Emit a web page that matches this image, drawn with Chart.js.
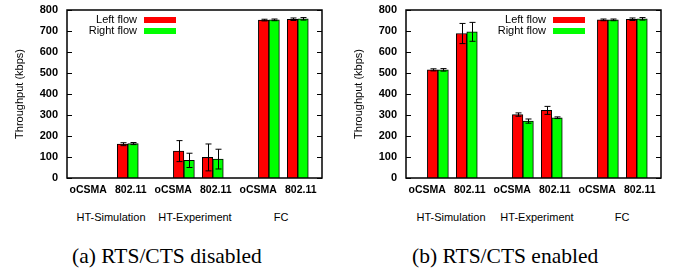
<!DOCTYPE html>
<html>
<head>
<meta charset="utf-8">
<script src="https://cdn.jsdelivr.net/npm/chart.js@4.4.0/dist/chart.umd.min.js"></script>
<style>
body { margin: 0; background: #fff; }
#fig { position: relative; width: 678px; height: 270px; overflow: hidden; }
.panel { position: absolute; top: 0; width: 339px; height: 200px; }
.grp { position: absolute; top: 212px; font: 11px "Liberation Sans", Arial, sans-serif; line-height: 11px; transform: translateX(-50%); white-space: nowrap; color: #000; }
.cap { position: absolute; top: 246px; font: 21.5px "Liberation Serif", "Times New Roman", serif; line-height: 21.5px; white-space: nowrap; color: #000; }
</style>
</head>
<body>
<div id="fig">
  <div class="panel" style="left:0"><canvas id="chartA" width="339" height="200"></canvas></div>
  <div class="panel" style="left:339px"><canvas id="chartB" width="339" height="200"></canvas></div>
</div>
<script>
const protocols = ['oCSMA', '802.11'];
const scenarios = ['HT-Simulation', 'HT-Experiment', 'FC'];
const flowNames = ['Left flow', 'Right flow'];
const captions = ['(a) RTS/CTS disabled', '(b) RTS/CTS enabled'];

// order: HT-Sim oCSMA, HT-Sim 802.11, HT-Exp oCSMA, HT-Exp 802.11, FC oCSMA, FC 802.11
// (a) RTS/CTS disabled
const offLeft = [null, 161, 128, 98, 752, 756];
const offLeftErr = [null, 7, 50, 64, 4, 6];
const offRight = [null, 164, 84, 90, 753, 758];
const offRightErr = [null, 5, 34, 47, 4, 6];
// (b) RTS/CTS enabled
const onLeft = [515, 688, 302, 322, 753, 756];
const onLeftErr = [5, 48, 8, 19, 4, 6];
const onRight = [515, 696, 271, 287, 753, 758];
const onRightErr = [6, 45, 10, 4, 4, 6];

// where bars and tick labels sit inside each scenario group
const barSlot = [0.375, 0.715];
const tickSlot = [0.25, 0.75];

Chart.defaults.font.family = '"Liberation Sans", Arial, sans-serif';
Chart.defaults.color = '#000';

function toPoints(values) {
    return values.map((v, i) => ({ x: Math.floor(i / 2) + barSlot[i % 2], y: v }));
}

// error bars drawn from the y scale
const errorBars = {
    id: 'errorBars',
    afterDatasetsDraw(chart) {
        const ctx = chart.ctx;
        const y = chart.scales.y;
        ctx.save();
        ctx.strokeStyle = '#000';
        ctx.lineWidth = 1;
        chart.data.datasets.forEach((ds, i) => {
            const meta = chart.getDatasetMeta(i);
            meta.data.forEach((bar, j) => {
                const v = ds.data[j].y;
                const e = ds.errors[j];
                if (v == null || e == null) return;
                const top = y.getPixelForValue(v + e);
                const bot = y.getPixelForValue(Math.max(v - e, 0));
                const x = Math.round(bar.x) + 0.5;
                ctx.beginPath();
                ctx.moveTo(x, top); ctx.lineTo(x, bot);
                ctx.moveTo(x - 3, top); ctx.lineTo(x + 3, top);
                ctx.moveTo(x - 3, bot); ctx.lineTo(x + 3, bot);
                ctx.stroke();
            });
        });
        ctx.restore();
    }
};

// gnuplot style frame: box plus inward ticks on both sides
const frame = {
    id: 'frame',
    afterDraw(chart) {
        const ctx = chart.ctx;
        const a = chart.chartArea;
        const y = chart.scales.y;
        ctx.save();
        ctx.strokeStyle = '#000';
        ctx.lineWidth = 1;
        y.ticks.forEach(t => {
            const py = Math.round(y.getPixelForValue(t.value)) + 0.5;
            ctx.beginPath();
            ctx.moveTo(a.left, py); ctx.lineTo(a.left + 5, py);
            ctx.moveTo(a.right, py); ctx.lineTo(a.right - 5, py);
            ctx.stroke();
        });
        ctx.lineWidth = 1.5;
        ctx.strokeRect(a.left, a.top, a.right - a.left, a.bottom - a.top);
        ctx.restore();
    }
};

// key inside the plot: text then a colour swatch
const keyBox = {
    id: 'keyBox',
    afterDraw(chart, args, opts) {
        const ctx = chart.ctx;
        ctx.save();
        ctx.font = '11px "Liberation Sans", Arial, sans-serif';
        ctx.textAlign = 'right';
        ctx.textBaseline = 'middle';
        chart.data.datasets.forEach((ds, i) => {
            const cy = opts.y + i * 11;
            ctx.fillStyle = '#000';
            ctx.fillText(ds.label, opts.x, cy);
            ctx.fillStyle = ds.backgroundColor;
            ctx.fillRect(opts.x + 7, cy - 3, 32, 6);
        });
        ctx.restore();
    }
};

function makeChart(id, left, leftErr, right, rightErr, keyX) {
    return new Chart(document.getElementById(id), {
        type: 'bar',
        data: {
            datasets: [{
                label: flowNames[0],
                data: toPoints(left),
                errors: leftErr,
                backgroundColor: '#ff0000',
                borderColor: '#000',
                borderWidth: 1,
                barThickness: 10.5
            }, {
                label: flowNames[1],
                data: toPoints(right),
                errors: rightErr,
                backgroundColor: '#00ff00',
                borderColor: '#000',
                borderWidth: 1,
                barThickness: 10.5
            }]
        },
        options: {
            responsive: false,
            animation: false,
            layout: { padding: { top: 10, right: 17, left: 0, bottom: 0 } },
            plugins: {
                legend: { display: false },
                tooltip: { enabled: false },
                keyBox: { x: keyX, y: 20 }
            },
            scales: {
                x: {
                    type: 'linear',
                    offset: false,
                    min: 0,
                    max: 3,
                    grid: { display: false, drawTicks: false },
                    border: { display: false },
                    afterBuildTicks: axis => {
                        const ticks = [];
                        scenarios.forEach((s, g) => tickSlot.forEach(o => ticks.push({ value: g + o })));
                        axis.ticks = ticks;
                    },
                    afterFit: axis => { axis.height = 22; },
                    ticks: {
                        autoSkip: false,
                        maxRotation: 0,
                        padding: 6,
                        font: { size: 10.5, weight: 'bold' },
                        callback: (v, i) => protocols[i % 2]
                    }
                },
                y: {
                    min: 0,
                    max: 800,
                    grid: { display: false, drawTicks: false },
                    border: { display: false },
                    afterFit: axis => {
                        axis.width = 67;
                        axis.paddingTop = 0;
                        axis.paddingBottom = 0;
                    },
                    ticks: {
                        stepSize: 100,
                        padding: 9,
                        font: { size: 11, weight: 'bold' }
                    },
                    title: {
                        display: true,
                        text: 'Throughput (kbps)',
                        font: { size: 11 },
                        padding: { top: 13, bottom: 0 }
                    }
                }
            }
        },
        plugins: [errorBars, frame, keyBox]
    });
}

makeChart('chartA', offLeft, offLeftErr, offRight, offRightErr, 137);
makeChart('chartB', onLeft, onLeftErr, onRight, onRightErr, 207);

// scenario names under each panel and the captions
const fig = document.getElementById('fig');
const scenarioCenters = [[111, 195, 281], [451, 537, 622]];
scenarioCenters.forEach(row => row.forEach((cx, g) => {
    const s = document.createElement('span');
    s.className = 'grp';
    s.style.left = cx + 'px';
    s.textContent = scenarios[g];
    fig.appendChild(s);
}));
[72, 412].forEach((lx, i) => {
    const c = document.createElement('span');
    c.className = 'cap';
    c.style.left = lx + 'px';
    c.textContent = captions[i];
    fig.appendChild(c);
});
</script>
</body>
</html>
